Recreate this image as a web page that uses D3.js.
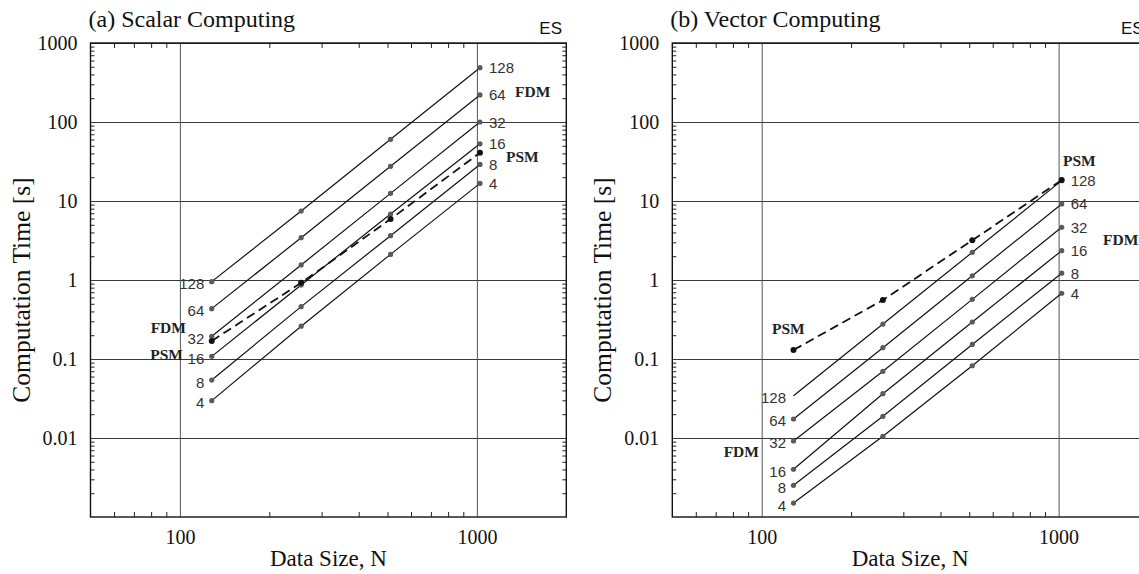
<!DOCTYPE html>
<html>
<head>
<meta charset="utf-8">
<script src="https://cdn.jsdelivr.net/npm/d3@7"></script>
<style>
  html, body { margin: 0; padding: 0; background: #fff; }
  svg { display: block; }
</style>
</head>
<body>
<svg id="chart" width="1139" height="574"></svg>
<script>
// ---------------- DATA ----------------
const dataSizes = [128, 256, 512, 1024];
const procLabels = ["128", "64", "32", "16", "8", "4"];
const xTickValues = [100, 1000];
const xTickLabels = ["100", "1000"];
const yTickValues = [1000, 100, 10, 1, 0.1, 0.01];
const yTickLabels = ["1000", "100", "10", "1", "0.1", "0.01"];

// (a) Scalar computing, FDM for 128..4 processors, and PSM
const scalarFDM128 = [0.953, 7.47, 60.4, 487];
const scalarFDM64  = [0.434, 3.43, 27.5, 220];
const scalarFDM32  = [0.194, 1.55, 12.5, 100];
const scalarFDM16  = [0.108, 0.865, 6.84, 53];
const scalarFDM8   = [0.0542, 0.46, 3.64, 29];
const scalarFDM4   = [0.0297, 0.26, 2.11, 16.7];
const scalarPSM    = [0.169, 0.92, 5.9, 40.8];

// (b) Vector computing
const vectorFDM128 = [0.0343, 0.277, 2.24, 18.1];
const vectorFDM64  = [0.0174, 0.139, 1.13, 9.17];
const vectorFDM32  = [0.00917, 0.0698, 0.569, 4.65];
const vectorFDM16  = [0.00402, 0.0364, 0.294, 2.35];
const vectorFDM8   = [0.00252, 0.0188, 0.153, 1.22];
const vectorFDM4   = [0.0015, 0.0105, 0.0822, 0.68];
const vectorPSM    = [0.130, 0.558, 3.18, 18.4];

const panelTitles = ["(a) Scalar Computing", "(b) Vector Computing"];

// annotation anchors in data space: [text, N, time, anchor]
const scalarNotes = [["FDM", 104.8, 0.247, "end"], ["PSM", 102.4, 0.1156, "end"],
                     ["FDM", 1344, 240, "start"], ["PSM", 1253, 36.1, "start"]];
const vectorNotes = [["PSM", 108.3, 0.24, "start"], ["FDM", 97.9, 0.00684, "end"],
                     ["PSM", 1034, 32.4, "start"], ["FDM", 1411, 3.30, "start"]];

// ---------------- LAYOUT ----------------
const svg = d3.select("#chart");
const serif = "'Liberation Serif', 'Times New Roman', Times, serif";
const sans = "'Liberation Sans', Arial, Helvetica, sans-serif";
const plotTop = 43, plotBottom = 517;

const panels = [
  { x0: 90.5, x1: 566.3, title: panelTitles[0],
    fdm: [scalarFDM128, scalarFDM64, scalarFDM32, scalarFDM16, scalarFDM8, scalarFDM4],
    psm: scalarPSM, notes: scalarNotes, firstMarker128: true },
  { x0: 672.3, x1: 1148, title: panelTitles[1],
    fdm: [vectorFDM128, vectorFDM64, vectorFDM32, vectorFDM16, vectorFDM8, vectorFDM4],
    psm: vectorPSM, notes: vectorNotes, firstMarker128: false }
];

const minorX = [];
[10, 100, 1000].forEach(dec => { for (let k = 2; k <= 9; k++) { const v = k * dec; if (v > 50 && v < 2000) minorX.push(v); } });
const minorY = [];
[0.001, 0.01, 0.1, 1, 10, 100].forEach(dec => { for (let k = 2; k <= 9; k++) minorY.push(k * dec); });

panels.forEach((p, pi) => {
  const x = d3.scaleLog().domain([50, 2000]).range([p.x0, p.x1]);
  const y = d3.scaleLog().domain([0.001, 1000]).range([plotBottom, plotTop]);
  const w = p.x1 - p.x0, h = plotBottom - plotTop;
  const g = svg.append("g");

  // gridlines + tick labels
  const gy = g.append("g").attr("transform", `translate(${p.x0},0)`)
    .call(d3.axisLeft(y).tickValues(yTickValues).tickSize(-w).tickPadding(13)
      .tickFormat((d, i) => yTickLabels[i]));
  gy.select(".domain").remove();
  gy.selectAll("line").attr("stroke", "#3a3a3a").attr("stroke-width", 1);
  gy.selectAll("text").attr("font-family", serif).attr("font-size", 20).attr("fill", "#111");

  const gx = g.append("g").attr("transform", `translate(0,${plotBottom})`)
    .call(d3.axisBottom(x).tickValues(xTickValues).tickSize(-h).tickPadding(13)
      .tickFormat((d, i) => xTickLabels[i]));
  gx.select(".domain").remove();
  gx.selectAll("line").attr("stroke", "#555").attr("stroke-width", 1);
  gx.selectAll("text").attr("font-family", serif).attr("font-size", 20).attr("fill", "#111");

  // minor ticks (inside) on all four sides
  const minorAxes = [
    [d3.axisBottom(x).tickValues(minorX).tickSize(-5), `translate(0,${plotBottom})`],
    [d3.axisTop(x).tickValues(minorX).tickSize(-5), `translate(0,${plotTop})`],
    [d3.axisLeft(y).tickValues(minorY).tickSize(-4), `translate(${p.x0},0)`],
    [d3.axisRight(y).tickValues(minorY).tickSize(-4), `translate(${p.x1},0)`]
  ];
  minorAxes.forEach(([ax, tr]) => {
    const m = g.append("g").attr("transform", tr).call(ax.tickFormat(""));
    m.select(".domain").remove();
    m.selectAll("line").attr("stroke", "#222").attr("stroke-width", 1);
  });

  // frame
  g.append("rect").attr("x", p.x0).attr("y", plotTop).attr("width", w).attr("height", h)
    .attr("fill", "none").attr("stroke", "#111").attr("stroke-width", 1.4);

  const line = d3.line().x((d, i) => x(dataSizes[i])).y(d => y(d));

  // FDM lines
  p.fdm.forEach((vals, si) => {
    g.append("path").attr("d", line(vals)).attr("fill", "none")
      .attr("stroke", "#111").attr("stroke-width", 1.2);
    const pts = vals.map((v, i) => ({ v, i }))
      .filter(d => !(d.i === 0 && si === 0 && !p.firstMarker128));
    g.selectAll(null).data(pts).enter().append("circle")
      .attr("cx", d => x(dataSizes[d.i])).attr("cy", d => y(d.v)).attr("r", 2.6)
      .attr("fill", "#5a5a5a");
    g.append("text").attr("x", x(dataSizes[0]) - 7.5).attr("y", y(vals[0]) + 2)
      .attr("text-anchor", "end").attr("dominant-baseline", "central")
      .attr("font-family", sans).attr("font-size", 15).attr("fill", "#333")
      .text(procLabels[si]);
    g.append("text").attr("x", x(dataSizes[3]) + 9).attr("y", y(vals[3]))
      .attr("text-anchor", "start").attr("dominant-baseline", "central")
      .attr("font-family", sans).attr("font-size", 15).attr("fill", "#333")
      .text(procLabels[si]);
  });

  // PSM dashed
  g.append("path").attr("d", line(p.psm)).attr("fill", "none")
    .attr("stroke", "#111").attr("stroke-width", 1.8).attr("stroke-dasharray", "9,5");
  g.selectAll(null).data(p.psm).enter().append("circle")
    .attr("cx", (d, i) => x(dataSizes[i])).attr("cy", d => y(d)).attr("r", 3)
    .attr("fill", "#111");

  // FDM / PSM annotations
  p.notes.forEach(([t, nx, ny, anchor]) => {
    g.append("text").attr("x", x(nx)).attr("y", y(ny))
      .attr("text-anchor", anchor).attr("dominant-baseline", "central")
      .attr("font-family", serif).attr("font-weight", "bold").attr("font-size", 15.5)
      .attr("fill", "#222").text(t);
  });

  // titles
  g.append("text").attr("x", p.x0 - 2).attr("y", 27)
    .attr("font-family", serif).attr("font-size", 24).attr("fill", "#111").text(p.title);
  g.append("text").attr("x", p.x1 - 27).attr("y", 34)
    .attr("font-family", sans).attr("font-size", 17).attr("fill", "#111").text("ES");

  // axis titles
  g.append("text").attr("x", (p.x0 + p.x1) / 2).attr("y", 566)
    .attr("text-anchor", "middle").attr("font-family", serif).attr("font-size", 23)
    .attr("fill", "#111").text("Data Size, N");
  g.append("text").attr("transform", `translate(${p.x0 - 61},${(plotTop + plotBottom) / 2 + 10}) rotate(-90)`)
    .attr("text-anchor", "middle").attr("font-family", serif).attr("font-size", 25.5)
    .attr("fill", "#111").text("Computation Time [s]");
});
</script>
</body>
</html>
